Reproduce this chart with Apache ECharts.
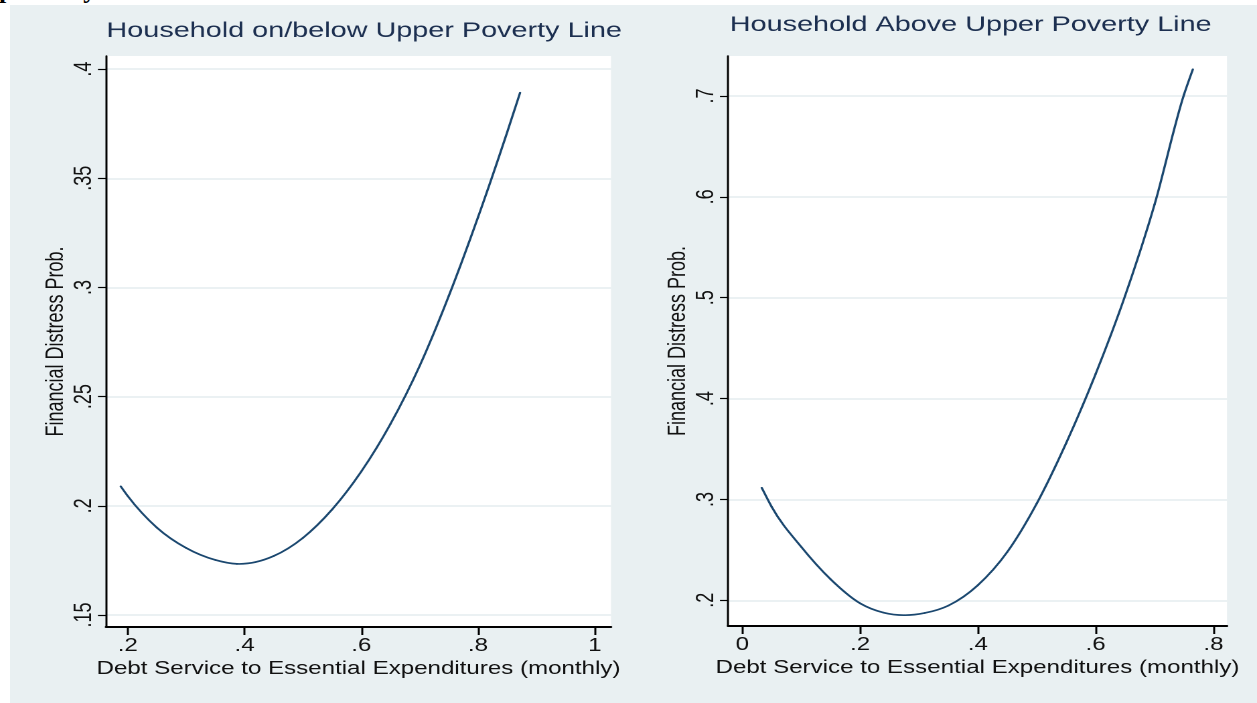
<!DOCTYPE html>
<html>
<head>
<meta charset="utf-8">
<title>Financial Distress Probability by Debt Service Ratio</title>
<script src="https://cdn.jsdelivr.net/npm/echarts@6/dist/echarts.min.js"></script>
<style>
  html, body { margin: 0; padding: 0; background: #ffffff; width: 1257px; height: 703px; overflow: hidden; }
  #clip { position: absolute; left: 0; top: 0; width: 200px; height: 5px; overflow: hidden; }
  #clip span { position: absolute; left: -1px; top: -25px; line-height: 26px; font: bold 26px "Liberation Serif", serif; color: #000; letter-spacing: 2px; }
  /* the graph is laid out on a narrower canvas and widened horizontally */
  #chart { position: absolute; left: 10px; top: 5px; width: 931px; height: 698px; transform: scaleX(1.33942); transform-origin: 0 0; }
</style>
</head>
<body>
<div id="clip"><span>poverty</span></div>
<div id="chart"></div>
<script>
// Predicted probability of financial distress, households on/below the upper poverty line
const belowX = [0.188, 0.20, 0.25, 0.30, 0.35, 0.387, 0.45, 0.50, 0.55, 0.60, 0.65, 0.70, 0.75, 0.80, 0.85, 0.872];
const belowY = [0.2089, 0.2045, 0.1900, 0.1807, 0.1752, 0.1734, 0.1770, 0.1853, 0.1983, 0.2157, 0.2375, 0.2641, 0.2962, 0.3322, 0.3712, 0.3892];

// Predicted probability of financial distress, households above the upper poverty line
const aboveX = [0.033, 0.05, 0.10, 0.15, 0.20, 0.24, 0.275, 0.31, 0.35, 0.40, 0.45, 0.50, 0.55, 0.60, 0.65, 0.70, 0.75, 0.765];
const aboveY = [0.3115, 0.2925, 0.2530, 0.2208, 0.1970, 0.1877, 0.1852, 0.1874, 0.1948, 0.2150, 0.2480, 0.2960, 0.3560, 0.4245, 0.5020, 0.5925, 0.7015, 0.7265];

// Tick values for each panel
const belowXTicks = [0.2, 0.4, 0.6, 0.8, 1];
const belowYTicks = [0.15, 0.2, 0.25, 0.3, 0.35, 0.4];
const aboveXTicks = [0, 0.2, 0.4, 0.6, 0.8];
const aboveYTicks = [0.2, 0.3, 0.4, 0.5, 0.6, 0.7];

const titles = ['Household on/below Upper Poverty Line', 'Household Above Upper Poverty Line'];
const xTitle = 'Debt Service to Essential Expenditures (monthly)';
const yTitle = 'Financial Distress Prob.';

const lineColor = '#1a476f';
const gridColor = '#e5edf0';
const titleColor = '#1c2f50';
const sans = '"Liberation Sans", Arial, sans-serif';

// horizontal widening applied to the canvas; layout x values are given in widened pixels
const S = 1247 / 931;
const px = v => v / S;

// Stata-style numbers: drop the leading zero
const fmt = v => {
  const s = String(+v.toFixed(4));
  return s.startsWith('0.') ? s.slice(1) : s;
};

function xAxis(gridIndex, min, max, ticks) {
  return {
    type: 'value', gridIndex, min, max,
    name: xTitle, nameLocation: 'middle', nameGap: 33,
    nameTextStyle: { fontFamily: sans, fontSize: 18, color: '#111' },
    axisLine: { show: true, onZero: false, lineStyle: { color: '#000', width: 2 } },
    axisTick: { show: true, customValues: ticks, length: 8, lineStyle: { color: '#000', width: 1.5 } },
    axisLabel: { customValues: ticks, formatter: fmt, margin: 10, fontFamily: sans, fontSize: 18, color: '#111' },
    splitLine: { show: false }
  };
}

function yAxis(gridIndex, min, max, ticks) {
  return {
    type: 'value', gridIndex, min, max,
    name: yTitle, nameLocation: 'middle', nameGap: 28, nameRotate: 90,
    nameTextStyle: { fontFamily: sans, fontSize: 18, color: '#111' },
    axisLine: { show: true, onZero: false, lineStyle: { color: '#000', width: 1.5 } },
    axisTick: { show: true, customValues: ticks, length: 6, lineStyle: { color: '#000', width: 1.2 } },
    axisLabel: { customValues: ticks, formatter: fmt, rotate: 90, margin: 7, fontFamily: sans, fontSize: 18, color: '#111' },
    splitLine: { show: true, lineStyle: { color: gridColor, width: 1.5 } }
  };
}

// Smooth curve through the points: each item draws the cubic Hermite segment
// from its point to the next one, with slopes shared between neighbouring segments.
function curveSeries(axisIndex, xs, ys) {
  const n = xs.length;
  return {
    type: 'custom', coordinateSystem: 'cartesian2d',
    xAxisIndex: axisIndex, yAxisIndex: axisIndex,
    encode: { x: 0, y: 1 },
    data: xs.map((x, i) => [x, ys[i]]),
    renderItem(params, api) {
      const i = params.dataIndex;
      if (i >= n - 1) return null;
      const p = k => api.coord([xs[k], ys[k]]);
      const slope = k => {
        const c = p(k);
        if (k === 0) { const b = p(1); return (b[1] - c[1]) / (b[0] - c[0]); }
        if (k === n - 1) { const a = p(n - 2); return (c[1] - a[1]) / (c[0] - a[0]); }
        const a = p(k - 1), b = p(k + 1);
        const h0 = c[0] - a[0], h1 = b[0] - c[0];
        const s0 = (c[1] - a[1]) / h0, s1 = (b[1] - c[1]) / h1;
        return (s0 * h1 + s1 * h0) / (h0 + h1);
      };
      const a = p(i), b = p(i + 1);
      const h = b[0] - a[0];
      const m0 = slope(i), m1 = slope(i + 1);
      return {
        type: 'bezierCurve',
        shape: {
          x1: a[0], y1: a[1], x2: b[0], y2: b[1],
          cpx1: a[0] + h / 3, cpy1: a[1] + m0 * h / 3,
          cpx2: b[0] - h / 3, cpy2: b[1] - m1 * h / 3
        },
        style: { stroke: lineColor, lineWidth: 1.7, fill: null, lineCap: 'round' },
        silent: true
      };
    }
  };
}

const chart = echarts.init(document.getElementById('chart'), null, { renderer: 'canvas', devicePixelRatio: 2 });
chart.setOption({
  backgroundColor: '#e9f0f2',
  animation: false,
  title: [
    { text: titles[0], left: px(347.5), top: 10, textAlign: 'center',
      textStyle: { fontFamily: sans, fontSize: 21.5, fontWeight: 'normal', color: titleColor } },
    { text: titles[1], left: px(954), top: 4, textAlign: 'center',
      textStyle: { fontFamily: sans, fontSize: 21.5, fontWeight: 'normal', color: titleColor } }
  ],
  grid: [
    { left: px(96), top: 51, width: px(505), height: 571, show: true, backgroundColor: '#fff', borderWidth: 0 },
    { left: px(718), top: 51, width: px(499), height: 570, show: true, backgroundColor: '#fff', borderWidth: 0 }
  ],
  xAxis: [
    xAxis(0, 0.1628, 1.0277, belowXTicks),
    xAxis(1, -0.0243, 0.823, aboveXTicks)
  ],
  yAxis: [
    yAxis(0, 0.1445, 0.406, belowYTicks),
    yAxis(1, 0.1745, 0.7397, aboveYTicks)
  ],
  series: [
    curveSeries(0, belowX, belowY),
    curveSeries(1, aboveX, aboveY)
  ]
});
</script>
</body>
</html>
